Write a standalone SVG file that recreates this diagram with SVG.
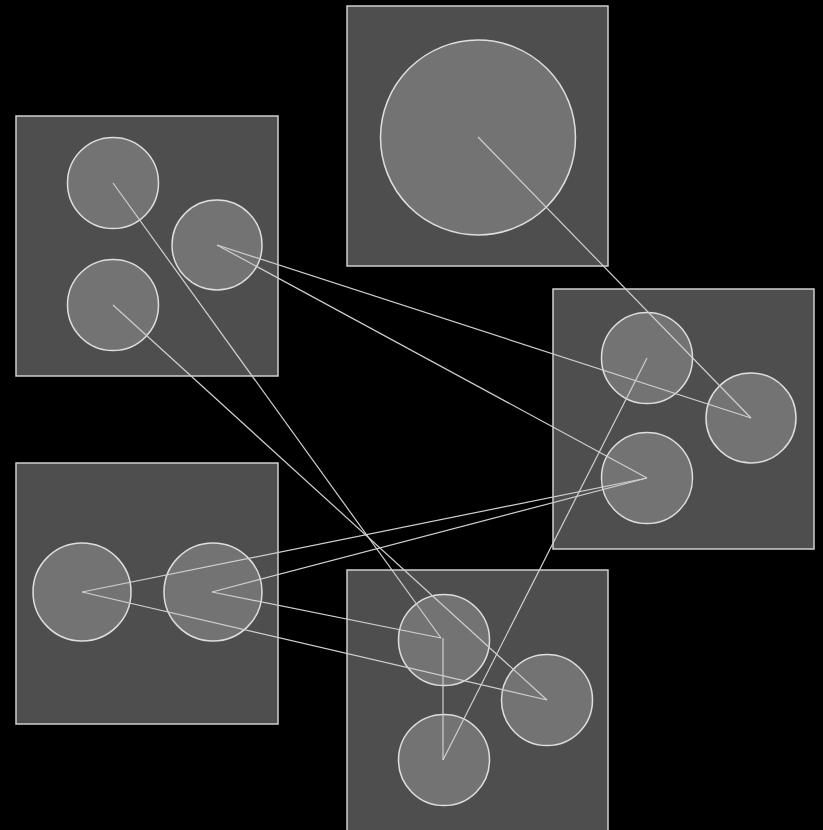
<svg xmlns="http://www.w3.org/2000/svg" width="823" height="830" viewBox="0 0 823 830">
<style>
.box{fill:#4e4e4e;stroke:#cfcfcf;stroke-width:1.5}
.c{fill:#737373;stroke:#dedede;stroke-width:1.5}
.e{stroke:#cfcfcf;stroke-width:1.2;fill:none}
</style>
<rect width="823" height="830" fill="#000"/>
<g id="box1">
<rect class="box" x="16" y="116" width="262" height="260"/>
<circle class="c" cx="113" cy="183" r="45.5"/>
<circle class="c" cx="217" cy="245" r="45"/>
<circle class="c" cx="113" cy="305" r="45.5"/>
</g>
<g id="box2">
<rect class="box" x="347" y="6" width="261" height="260"/>
<circle class="c" cx="478" cy="137.5" r="97.5"/>
</g>
<g id="box3">
<rect class="box" x="553" y="289" width="261" height="260"/>
<circle class="c" cx="647" cy="358" r="45.5"/>
<circle class="c" cx="751" cy="418" r="45"/>
<circle class="c" cx="647" cy="478" r="45.5"/>
</g>
<g id="box4">
<rect class="box" x="16" y="463" width="262" height="261"/>
<circle class="c" cx="82" cy="592" r="49"/>
<circle class="c" cx="213" cy="592" r="49"/>
</g>
<g id="box5">
<rect class="box" x="347" y="570" width="261" height="262"/>
<circle class="c" cx="444" cy="640" r="45.5"/>
<circle class="c" cx="547" cy="700" r="45.5"/>
<circle class="c" cx="444" cy="760" r="45.5"/>
</g>
<g id="connectors">
<line class="e" x1="113" y1="183" x2="441" y2="638"/>
<line class="e" x1="113" y1="305" x2="547" y2="700"/>
<line class="e" x1="217" y1="245" x2="751" y2="418"/>
<line class="e" x1="217" y1="245" x2="647" y2="478"/>
<line class="e" x1="478" y1="137" x2="751" y2="418"/>
<line class="e" x1="82" y1="592" x2="647" y2="478"/>
<line class="e" x1="82" y1="592" x2="547" y2="700"/>
<line class="e" x1="212" y1="592" x2="647" y2="478"/>
<line class="e" x1="212" y1="592" x2="441" y2="638"/>
<line class="e" x1="443" y1="638" x2="443" y2="760"/>
<line class="e" x1="443" y1="760" x2="647" y2="358"/>
</g>
</svg>
